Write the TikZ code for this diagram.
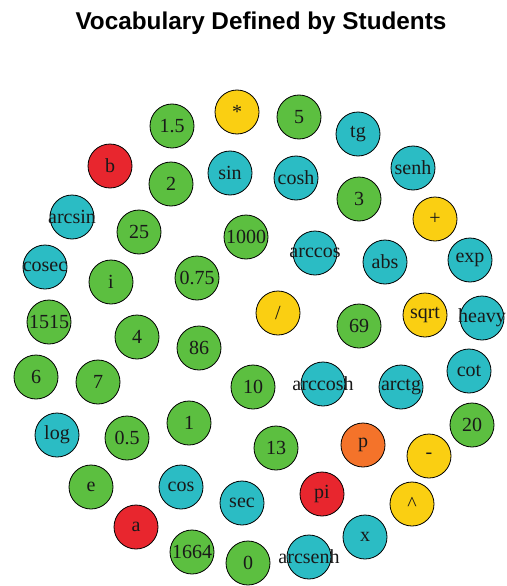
\documentclass[tikz,border=0pt]{standalone}
\usepackage{fontspec}
\setmainfont{Liberation Serif}
\newfontfamily\titlefont{Liberation Sans}
\usepackage{xcolor}
\usepackage{tikz}
\definecolor{BallGreen}{HTML}{5CBF40}
\definecolor{BallCyan}{HTML}{2BBCC4}
\definecolor{BallYellow}{HTML}{FACF12}
\definecolor{BallRed}{HTML}{E8262E}
\definecolor{BallOrange}{HTML}{F4732A}
\newcommand{\wrd}[1]{\makebox[0pt]{#1}}

\begin{document}
\begin{tikzpicture}[x=1pt,y=-1pt,
    every node/.style={font=\fontsize{20}{22}\selectfont},
    ball/.style={circle,draw=black,line width=0.8pt,minimum size=44pt,
                 inner sep=0pt,text=black!90},
    num/.style={ball,fill=BallGreen},
    func/.style={ball,fill=BallCyan},
    oper/.style={ball,fill=BallYellow},
    var/.style={ball,fill=BallRed},
    const/.style={ball,fill=BallOrange}]
  \useasboundingbox (0,0) rectangle (506,586);
  \clip (0,0) rectangle (506,586);

  \node[anchor=base,font=\titlefont\bfseries\fontsize{24.3}{27}\selectfont]
    (title) at (261,30) {Vocabulary Defined by Students};

  % numbers
  \node[num] (n15)   at (172,126) {\wrd{1.5}};
  \node[num] (n2)    at (171,184) {\wrd{2}};
  \node[num] (n25)   at (139,232) {\wrd{25}};
  \node[num] (n5)    at (299,117) {\wrd{5}};
  \node[num] (n3)    at (359,199) {\wrd{3}};
  \node[num] (n1000) at (246,237) {\wrd{1000}};
  \node[num] (n075)  at (197,278) {\wrd{0.75}};
  \node[num] (ni)    at (111,282) {\wrd{i}};
  \node[num] (n1515) at (49,322)  {\wrd{1515}};
  \node[num] (n4)    at (137,337) {\wrd{4}};
  \node[num] (n86)   at (199,348) {\wrd{86}};
  \node[num] (n6)    at (36,377)  {\wrd{6}};
  \node[num] (n7)    at (98,382)  {\wrd{7}};
  \node[num] (n10)   at (253,387) {\wrd{10}};
  \node[num] (n69)   at (359,326) {\wrd{69}};
  \node[num] (n05)   at (127,438) {\wrd{0.5}};
  \node[num] (n1)    at (189,423) {\wrd{1}};
  \node[num] (ne)    at (91,487)  {\wrd{e}};
  \node[num] (n13)   at (276,448) {\wrd{13}};
  \node[num] (n1664) at (192,552) {\wrd{1664}};
  \node[num] (n0)    at (248,563) {\wrd{0}};
  \node[num] (n20)   at (472,425) {\wrd{20}};

  % functions
  \node[func] (fsin)     at (230,173) {\wrd{sin}};
  \node[func] (fcosh)    at (296,178) {\wrd{cosh}};
  \node[func] (ftg)      at (358,134) {\wrd{tg}};
  \node[func] (fsenh)    at (413,168) {\wrd{senh}};
  \node[func] (farcsin)  at (72,217)  {\wrd{arcsin}};
  \node[func] (fcosec)   at (45,267)  {\wrd{cosec}};
  \node[func] (farccos)  at (315,253) {\wrd{arccos}};
  \node[func] (fabs)     at (385,262) {\wrd{abs}};
  \node[func] (fexp)     at (470,260) {\wrd{exp}};
  \node[func] (fheavy)   at (482,318) {\wrd{heavy}};
  \node[func] (farccosh) at (323,384) {\wrd{arccosh}};
  \node[func] (farctg)   at (401,387) {\wrd{arctg}};
  \node[func] (fcot)     at (469,371) {\wrd{cot}};
  \node[func] (flog)     at (57,435)  {\wrd{log}};
  \node[func] (fcos)     at (181,487) {\wrd{cos}};
  \node[func] (fsec)     at (242,503) {\wrd{sec}};
  \node[func] (fx)       at (365,537) {\wrd{x}};
  \node[func] (farcsenh) at (309,557) {\wrd{arcsenh}};

  % operators
  \node[oper] (ostar)  at (237,112) {\wrd{*}};
  \node[oper] (oplus)  at (435,219) {\wrd{+}};
  \node[oper] (odiv)   at (278,313) {\wrd{/}};
  \node[oper] (osqrt)  at (425,315) {\wrd{sqrt}};
  \node[oper] (ominus) at (429,456) {\wrd{-}};
  \node[oper] (opow)   at (412,504) {\wrd{\textasciicircum}};

  % variables and constants
  \node[var] (vb)  at (110,166) {\wrd{b}};
  \node[var] (va)  at (136,527) {\wrd{a}};
  \node[var] (vpi) at (322,494) {\wrd{pi}};
  \node[const] (cp) at (363,445) {\wrd{p}};
\end{tikzpicture}
\end{document}
